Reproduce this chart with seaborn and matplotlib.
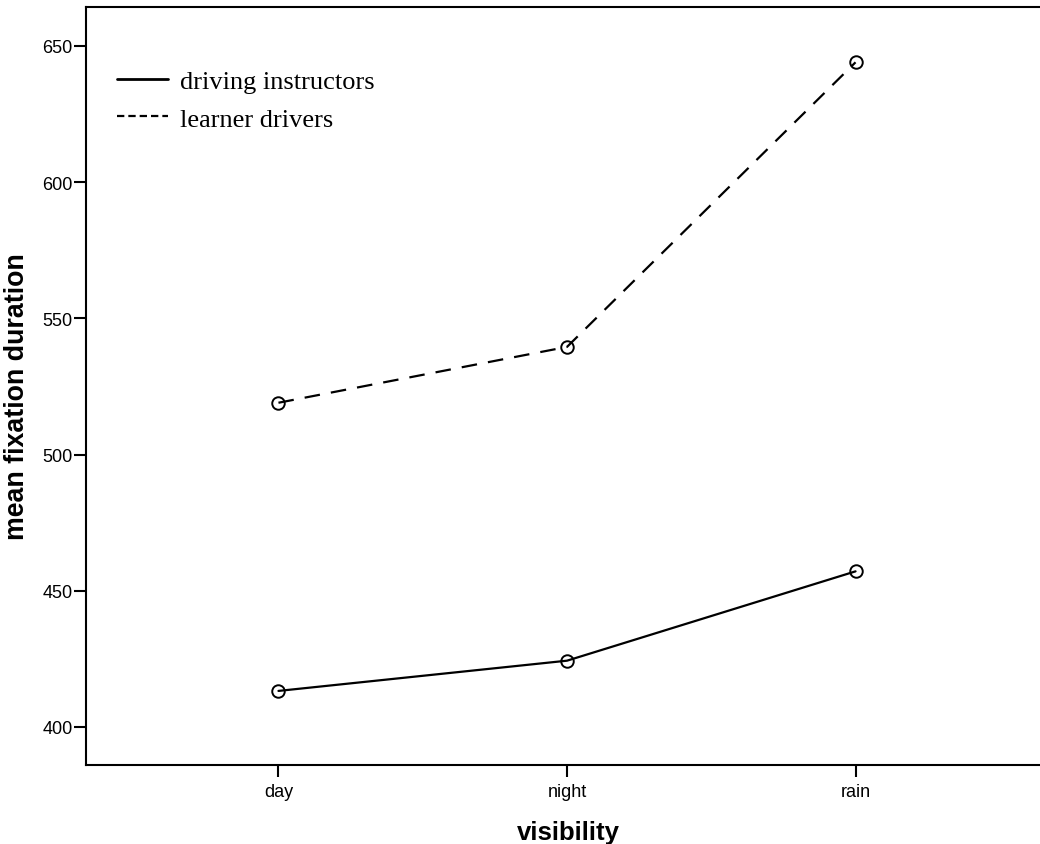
import matplotlib
matplotlib.use("Agg")
import matplotlib.pyplot as plt
import seaborn as sns
import pandas as pd
from matplotlib.lines import Line2D

visibility = ["day", "night", "rain"]
instructors = [413.2, 424.3, 457.1]
learners = [519.0, 539.5, 644.0]
groups = ["driving instructors", "learner drivers"]

df = pd.DataFrame({
    "visibility": visibility * 2,
    "duration": instructors + learners,
    "group": [groups[0]] * 3 + [groups[1]] * 3,
})

sns.set_style("ticks")
plt.rcParams["font.family"] = ["Liberation Sans", "DejaVu Sans"]
plt.rcParams["text.color"] = "black"
plt.rcParams["axes.labelcolor"] = "black"

fig = plt.figure(figsize=(10.4, 8.45), dpi=100)
ax = fig.add_axes([86 / 1040, 79 / 845, 962 / 1040, 758 / 845])

sns.lineplot(
    data=df, x="visibility", y="duration", style="group", hue="group",
    palette={groups[0]: "black", groups[1]: "black"},
    dashes={groups[0]: "", groups[1]: (7, 5)},
    markers={groups[0]: "o", groups[1]: "o"},
    markersize=9, markerfacecolor="none", markeredgecolor="black",
    markeredgewidth=1.4, linewidth=1.6, legend=False, ax=ax, sort=False,
)

ax.set_xlim(-0.667, 2.667)
ax.set_ylim(386.0, 664.3)
ax.set_yticks([400, 450, 500, 550, 600, 650])
ax.set_xticks([0, 1, 2])
ax.set_xticklabels(visibility)

for s in ["left", "bottom", "top"]:
    ax.spines[s].set_visible(True)
    ax.spines[s].set_linewidth(1.5)
    ax.spines[s].set_color("black")
ax.spines["right"].set_visible(False)

ax.tick_params(axis="both", direction="out", length=8.5, width=1.5,
               colors="black", labelsize=13)
ax.tick_params(axis="y", pad=1)
ax.tick_params(axis="x", pad=4.5)

ax.set_xlabel("visibility", fontsize=18.5, fontweight="bold", color="black")
ax.set_ylabel("mean fixation duration", fontsize=19.3, fontweight="bold", color="black")
ax.xaxis.set_label_coords(0.501, -0.072)
ax.yaxis.set_label_coords(-0.058, 0.487)

handles = [
    Line2D([], [], color="black", lw=2.0, linestyle="-"),
    Line2D([], [], color="black", lw=1.6, dashes=(3.3, 1.8)),
]
leg = ax.legend(handles, groups, loc="upper left", bbox_to_anchor=(0.032, 0.917),
                frameon=False, borderpad=0, borderaxespad=0, handlelength=1.93,
                handletextpad=0.45, labelspacing=0.52, labelcolor="black",
                prop={"family": "Liberation Serif", "size": 19})

fig.savefig("out.png", dpi=100)
